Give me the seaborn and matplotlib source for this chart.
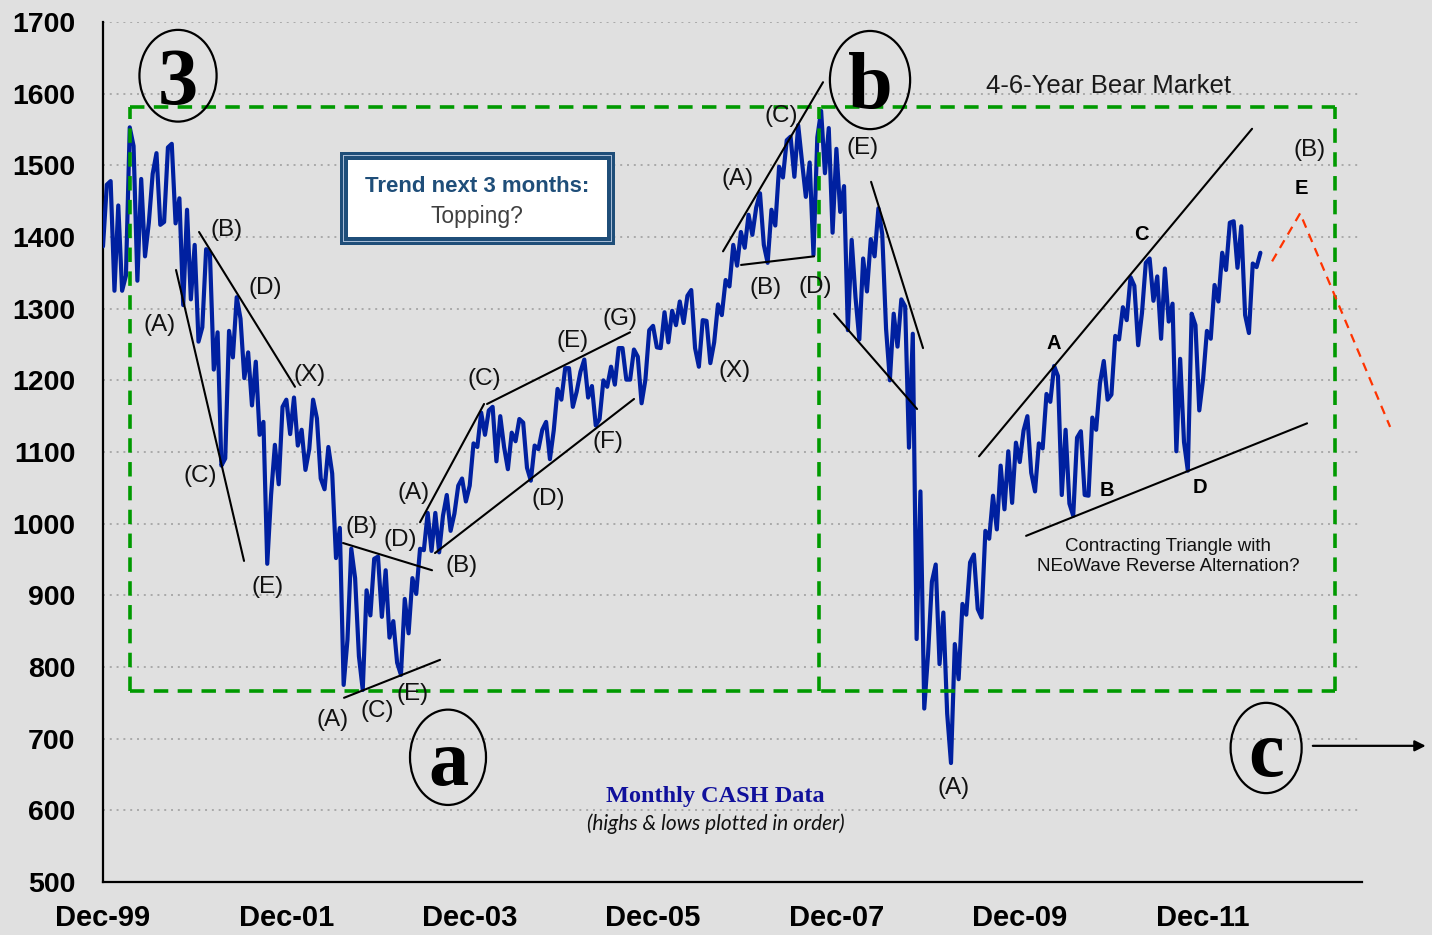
import numpy as np
import pandas as pd
import matplotlib
matplotlib.use("Agg")
import matplotlib.pyplot as plt
import seaborn as sns
from matplotlib.patches import Ellipse, Rectangle

# ---------------- data: monthly highs & lows, plotted in order of occurrence ----------------
dec_1999 = [1387, 1473]
y2000 = [1478, 1325, 1444, 1325, 1346, 1553, 1527, 1339, 1481, 1373, 1420, 1488,
         1517, 1417, 1421, 1525, 1530, 1419, 1454, 1305, 1438, 1313, 1389, 1254]
y2001 = [1274, 1383, 1376, 1215, 1267, 1081, 1091, 1269, 1232, 1316, 1286, 1203,
         1239, 1165, 1226, 1124, 1142, 944, 1040, 1110, 1055, 1163, 1173, 1125]
y2002 = [1176, 1109, 1131, 1075, 1104, 1173, 1147, 1063, 1048, 1107, 1070, 952,
         994, 775, 838, 965, 924, 815, 768, 907, 872, 951, 954, 870]
y2003 = [935, 841, 864, 806, 789, 895, 847, 924, 902, 965, 963, 1015,
         962, 1015, 960, 1011, 1040, 990, 1014, 1053, 1063, 1031, 1053, 1112]
y2004 = [1107, 1155, 1124, 1158, 1163, 1087, 1150, 1107, 1076, 1127, 1115, 1146,
         1141, 1078, 1060, 1109, 1104, 1131, 1142, 1090, 1130, 1188, 1173, 1217]
y2005 = [1217, 1163, 1184, 1212, 1229, 1176, 1192, 1137, 1146, 1200, 1191, 1219,
         1194, 1245, 1245, 1201, 1201, 1243, 1233, 1168, 1201, 1270, 1276, 1246]
y2006 = [1245, 1295, 1253, 1297, 1277, 1310, 1280, 1318, 1326, 1245, 1219, 1284,
         1283, 1224, 1253, 1306, 1291, 1340, 1331, 1389, 1360, 1407, 1385, 1431]
y2007 = [1403, 1441, 1461, 1389, 1364, 1438, 1416, 1498, 1483, 1535, 1540, 1484,
         1556, 1505, 1456, 1504, 1375, 1539, 1576, 1489, 1552, 1406, 1523, 1435]
y2008 = [1471, 1270, 1396, 1316, 1257, 1370, 1324, 1397, 1373, 1440, 1404, 1272,
         1200, 1293, 1247, 1313, 1303, 1106, 1265, 839, 1045, 742, 818, 919]
y2009 = [943, 804, 876, 735, 666, 832, 783, 888, 873, 946, 957, 881,
         869, 990, 979, 1039, 992, 1081, 1020, 1101, 1029, 1113, 1086, 1130]
y2010 = [1150, 1071, 1045, 1112, 1105, 1181, 1170, 1220, 1206, 1040, 1131, 1028,
         1011, 1120, 1129, 1040, 1039, 1148, 1131, 1196, 1227, 1173, 1180, 1262]
y2011 = [1257, 1302, 1284, 1344, 1332, 1249, 1294, 1364, 1370, 1311, 1345, 1258,
         1356, 1282, 1307, 1101, 1230, 1114, 1074, 1293, 1277, 1158, 1202, 1269]
y2012 = [1258, 1333, 1310, 1378, 1354, 1420, 1422, 1357, 1415, 1291, 1266, 1363,
         1358, 1378]

x_tick_months = [0, 24, 48, 72, 96, 120, 144]          # months after Dec-99
x_tick_labels = ["Dec-99", "Dec-01", "Dec-03", "Dec-05", "Dec-07", "Dec-09", "Dec-11"]
y_ticks = list(range(500, 1701, 100))

# ---------------- style ----------------
sns.set_style("white")
plt.rcParams["font.family"] = ["Liberation Sans", "DejaVu Sans"]
BG = "#E0E0E0"
BLUE = "#0020A0"
GREEN = "#009A00"

values = dec_1999 + y2000 + y2001 + y2002 + y2003 + y2004 + y2005 + y2006 + \
    y2007 + y2008 + y2009 + y2010 + y2011 + y2012
df = pd.DataFrame({"month": np.arange(len(values)) * 0.5, "price": values})

fig = plt.figure(figsize=(14.32, 9.35), dpi=100, facecolor=BG)
ax = fig.add_axes([103 / 1432, 1 - 882 / 935, (1362 - 103) / 1432, (882 - 22) / 935])
ax.set_facecolor(BG)

sns.lineplot(data=df, x="month", y="price", color=BLUE, linewidth=3.0,
             estimator=None, sort=False, ax=ax, zorder=5)

ax.set_xlim(0, 164.8)
ax.set_ylim(500, 1700)
ax.set_yticks(y_ticks)
ax.set_xticks(x_tick_months)
ax.set_xticklabels(x_tick_labels)
ax.set_xlabel("")
ax.set_ylabel("")
ax.grid(axis="y", linestyle=(0, (1, 2.5)), color="#A9A9A9", linewidth=1.4)
ax.grid(axis="x", visible=False)
ax.set_axisbelow(True)
for s in ["top", "right"]:
    ax.spines[s].set_visible(False)
for s in ["left", "bottom"]:
    ax.spines[s].set_color("black")
    ax.spines[s].set_linewidth(1.6)
ax.tick_params(axis="y", direction="out", length=7, width=1.5, pad=13,
               labelsize=20.5, colors="black")
ax.tick_params(axis="x", direction="out", length=5, width=1.5, pad=11,
               labelsize=21, colors="black")
for lbl in ax.get_xticklabels() + ax.get_yticklabels():
    lbl.set_fontweight("bold")

# ---------------- green dashed wave boxes ----------------
box_left, box_mid, box_right = 3.53, 93.7, 161.3
box_top, box_bottom = 1581, 767
gkw = dict(color=GREEN, linewidth=2.6, linestyle=(0, (4, 2.6)), zorder=6, clip_on=False)
ax.plot([box_left, box_right], [box_top, box_top], **gkw)
ax.plot([box_left, box_right], [box_bottom, box_bottom], **gkw)
for xv in (box_left, box_mid, box_right):
    ax.plot([xv, xv], [box_bottom, box_top], **gkw)

# ---------------- trend lines ----------------
trend_lines = [
    ((9.56, 1354), (18.46, 948)),
    ((12.57, 1407), (25.13, 1191)),
    ((31.42, 973), (43.07, 935)),
    ((31.55, 757), (44.12, 810)),
    ((41.5, 1002), (49.88, 1167)),
    ((43.46, 959), (69.51, 1174)),
    ((50.27, 1167), (68.99, 1267)),
    ((81.16, 1380), (94.25, 1616)),
    ((83.52, 1361), (93.07, 1373)),
    ((95.69, 1293), (106.56, 1160)),
    ((100.54, 1477), (107.34, 1245)),
    ((114.67, 1094), (150.41, 1551)),
    ((120.83, 983), (157.61, 1140)),
]
for (x0, y0), (x1, y1) in trend_lines:
    ax.plot([x0, x1], [y0, y1], color="black", linewidth=1.5, zorder=7, clip_on=False)

# projected path
ax.plot([153.03, 156.7, 168.48], [1366, 1433, 1135], color="#FF3300", linewidth=1.6,
        linestyle=(0, (4, 3)), zorder=7, clip_on=False)

# ---------------- wave labels ----------------
wave_labels = [
    ("(A)", 7.46, 1277), ("(B)", 16.2, 1410), ("(C)", 12.7, 1067), ("(D)", 21.2, 1329),
    ("(E)", 21.6, 912), ("(X)", 27.1, 1208), ("(B)", 33.9, 995), ("(D)", 38.9, 977),
    ("(B)", 46.9, 941), ("(A)", 40.6, 1043), ("(A)", 30.0, 726), ("(C)", 35.9, 739),
    ("(E)", 40.5, 762), ("(C)", 49.9, 1202), ("(D)", 58.3, 1034), ("(E)", 61.5, 1255),
    ("(F)", 66.1, 1114), ("(G)", 67.7, 1286), ("(X)", 82.7, 1213), ("(A)", 83.0, 1481),
    ("(C)", 88.8, 1569), ("(B)", 86.7, 1329), ("(D)", 93.2, 1330), ("(E)", 99.4, 1524),
    ("(A)", 111.3, 631), ("(B)", 158.0, 1521),
]
for txt, xv, yv in wave_labels:
    ax.text(xv, yv, txt, fontsize=17.5, ha="center", va="center", color="#111111",
            zorder=8, clip_on=False)

tri_labels = [("A", 124.4, 1251), ("B", 131.4, 1046), ("C", 135.9, 1403),
              ("D", 143.6, 1051), ("E", 156.8, 1468)]
for txt, xv, yv in tri_labels:
    ax.text(xv, yv, txt, fontsize=14.5, fontweight="bold", ha="center", va="center",
            color="black", zorder=8)

ax.text(131.6, 1611, "4-6-Year Bear Market", fontsize=18.5, ha="center", va="center",
        color="#1A1A1A", zorder=8)
ax.text(139.4, 954, "Contracting Triangle with\nNEoWave Reverse Alternation?",
        fontsize=13.5, ha="center", va="center", color="#111111", linespacing=1.25, zorder=8)

ax.text(80.2, 620, "Monthly CASH Data", fontsize=17.5, fontweight="bold",
        family=["Liberation Serif", "DejaVu Serif"], color="#10109C",
        ha="center", va="center", zorder=8)
ax.text(80.2, 582, "(highs & lows plotted in order)", fontsize=15, style="italic",
        family=["Lato", "Liberation Sans"], color="#111111", ha="center", va="center", zorder=8)

# ---------------- circled degree labels ----------------
circles = [("3", 9.82, 1625, 10.1, 128), ("b", 100.4, 1619, 10.5, 137),
           ("a", 45.16, 674, 9.95, 133), ("c", 152.25, 687, 9.3, 126)]
for txt, cx, cy, w, h in circles:
    ax.add_patch(Ellipse((cx, cy), w, h, fill=False, edgecolor="black", linewidth=1.6,
                         zorder=8, clip_on=False))
    ax.text(cx, cy, txt, fontsize=58, fontweight="bold",
            family=["Liberation Serif", "DejaVu Serif"], ha="center", va="center_baseline",
            color="black", zorder=9, clip_on=False)

ax.annotate("", xy=(173.5, 690), xytext=(158.0, 690),
            arrowprops=dict(arrowstyle="-|>", color="black", lw=1.6, mutation_scale=16),
            annotation_clip=False, zorder=8)

# ---------------- "Trend next 3 months" box ----------------
def box(x0, y0, x1, y1, color):
    ax.add_patch(Rectangle((x0, y1), x1 - x0, y0 - y1, facecolor=color, edgecolor="none",
                           zorder=8, clip_on=False))

box(31.03, 1519, 67.03, 1389, "#1F4E79")
box(31.42, 1515, 66.64, 1393, "#A8BCD6")
box(31.55, 1513, 66.51, 1395, "#1F4E79")
box(32.07, 1508, 65.99, 1400, "white")
ax.text(49.0, 1471, "Trend next 3 months:", fontsize=16, fontweight="bold",
        color="#1F4E79", ha="center", va="center", zorder=9)
ax.text(49.0, 1428, "Topping?", fontsize=16.5, color="#404040",
        ha="center", va="center", zorder=9)

fig.savefig("out.png", dpi=100, facecolor=BG)
